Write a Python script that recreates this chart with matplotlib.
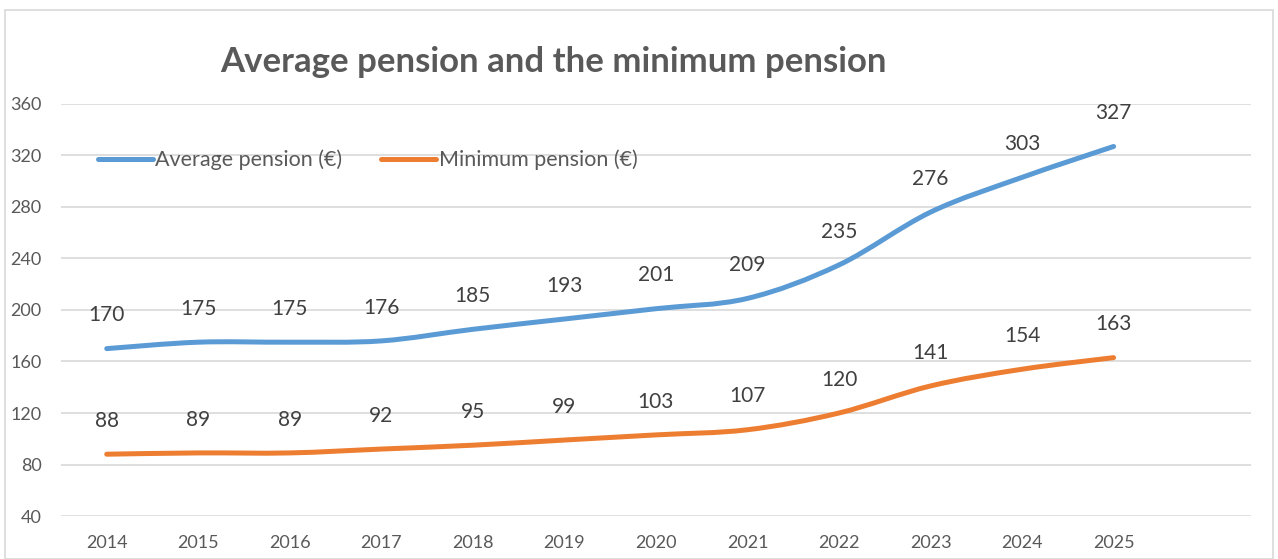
import matplotlib.pyplot as plt
import numpy as np
from matplotlib.path import Path
from matplotlib.patches import PathPatch, Rectangle
from matplotlib.lines import Line2D

plt.rcParams['font.family'] = ['Lato', 'DejaVu Sans']

# === data ===
years = ['2014', '2015', '2016', '2017', '2018', '2019', '2020',
         '2021', '2022', '2023', '2024', '2025']
average_pension = [170, 175, 175, 176, 185, 193, 201, 209, 235, 276, 303, 327]
minimum_pension = [88, 89, 89, 92, 95, 99, 103, 107, 120, 141, 154, 163]
series_names = ['Average pension (€)', 'Minimum pension (€)']
y_ticks = [40, 80, 120, 160, 200, 240, 280, 320, 360]

line_colors = ['#5B9BD5', '#ED7D31']
text_color = '#595959'
grid_color = '#D9D9D9'


# smoothed line like excel (bezier through the points)
def smooth_path(xs, ys):
    pts = np.column_stack([xs, ys]).astype(float)
    verts = [pts[0]]
    codes = [Path.MOVETO]
    n = len(pts)
    for i in range(n - 1):
        p_prev = pts[i - 1] if i > 0 else pts[i]
        p_next2 = pts[i + 2] if i + 2 < n else pts[i + 1]
        c1 = pts[i] + (pts[i + 1] - p_prev) / 6
        c2 = pts[i + 1] - (p_next2 - pts[i]) / 6
        verts += [c1, c2, pts[i + 1]]
        codes += [Path.CURVE4] * 3
    return Path(verts, codes)


fig = plt.figure(figsize=(12.78, 5.59), dpi=100)
ax = fig.add_axes([0.0477, 0.0769, 0.9311, 0.7371])

# chart border
fig.patches.append(Rectangle((5 / 1278, 0), 1268 / 1278, 1 - 10 / 559,
                             transform=fig.transFigure, fill=False,
                             edgecolor='#D9D9D9', linewidth=1.2))

x = np.arange(len(years))
handles = []
for vals, color, name in zip([average_pension, minimum_pension], line_colors, series_names):
    patch = PathPatch(smooth_path(x, vals), facecolor='none', edgecolor=color,
                      linewidth=3.6, capstyle='round', joinstyle='round', zorder=3)
    ax.add_patch(patch)
    for xi, v in zip(x, vals):
        ax.annotate(str(v), (xi, v), xytext=(0, 24), textcoords='offset points',
                    ha='center', va='center', fontsize=15, color='#404040')
    handles.append(Line2D([0], [0], color=color, linewidth=3.6, solid_capstyle='round', label=name))

ax.set_xlim(-0.5, 12.5)
ax.set_ylim(40, 360)
ax.set_xticks(x)
ax.set_xticklabels(years)
ax.set_yticks(y_ticks)
ax.tick_params(axis='both', length=0, labelsize=13, colors=text_color)
ax.tick_params(axis='y', pad=14)
ax.tick_params(axis='x', pad=14)
ax.grid(True, axis='y', color=grid_color, linewidth=1.2)
ax.set_axisbelow(True)
for s in ax.spines.values():
    s.set_visible(False)

ax.legend(handles=handles, loc='center left', bbox_to_anchor=(0.031, 0.864),
          ncol=2, frameon=False, fontsize=15.5, labelcolor=text_color,
          handlelength=2.55, handletextpad=0.12, columnspacing=1.8, borderpad=0,
          borderaxespad=0)

fig.text(0.433, 0.889, 'Average pension and the minimum pension', ha='center', va='center',
         fontsize=25, fontweight='bold', color=text_color)

plt.savefig('out.png', dpi=100)
